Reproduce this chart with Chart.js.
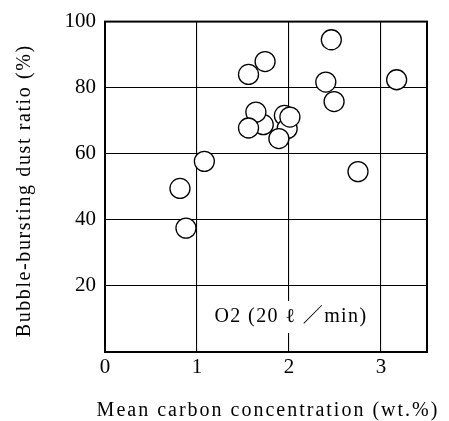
<!DOCTYPE html>
<html>
<head>
<meta charset="utf-8">
<script src="https://cdn.jsdelivr.net/npm/chart.js@4/dist/chart.umd.min.js"></script>
<style>
  html, body { margin: 0; padding: 0; background: #fff; }
  #wrap { width: 449px; height: 421px; }
</style>
</head>
<body>
<div id="wrap"><canvas id="c" width="449" height="421"></canvas></div>
<script>
// Mean carbon concentration (wt.%) of each run
const carbon = [0.815, 0.88, 1.08, 1.72, 1.64, 1.56, 1.56, 1.74, 1.95, 1.98, 2.01, 1.89, 2.40, 2.46, 2.49, 2.75, 3.17];
// Bubble-bursting dust ratio (%) of each run
const dustRatio = [49.5, 37.5, 57.7, 68.8, 72.6, 67.8, 84.0, 87.9, 71.6, 67.6, 71.1, 64.6, 81.7, 94.5, 75.8, 54.6, 82.4];

const xTickValues = [0, 1, 2, 3];
const yTickValues = [20, 40, 60, 80, 100];
const xRange = [0, 3.5];
const yRange = [0, 100];

const xTitle = 'Mean carbon concentration (wt.%)';
const yTitle = 'Bubble-bursting dust ratio (%)';
const noteText = 'O2 (20 ℓ ／min)';

const serif = '"Liberation Serif", "DejaVu Serif", "Noto Sans CJK JP", serif';

// Frame, axis titles and the condition note
const decor = {
  id: 'decor',
  beforeDatasetsDraw(chart) {
    const { ctx, chartArea: a } = chart;
    ctx.save();
    // note box sits over the grid but under the markers
    ctx.font = '20px ' + serif;
    ctx.letterSpacing = '1.4px';
    const w = ctx.measureText(noteText).width;
    const cx = (chart.scales.x.getPixelForValue(1) + chart.scales.x.getPixelForValue(3)) / 2 + 2;
    const cy = chart.scales.y.getPixelForValue(10.6);
    ctx.fillStyle = '#fff';
    ctx.fillRect(cx - w / 2 - 8, cy - 16, w + 16, 32);
    ctx.fillStyle = '#000';
    ctx.textAlign = 'center';
    ctx.textBaseline = 'middle';
    ctx.fillText(noteText, cx, cy);
    // frame
    ctx.strokeStyle = '#000';
    ctx.lineWidth = 2;
    ctx.strokeRect(a.left, a.top, a.right - a.left, a.bottom - a.top);
    ctx.restore();
  },
  afterDraw(chart) {
    const { ctx, chartArea: a } = chart;
    ctx.save();
    ctx.fillStyle = '#000';
    ctx.textAlign = 'center';
    ctx.textBaseline = 'middle';
    ctx.font = '20px ' + serif;
    ctx.letterSpacing = '2px';
    ctx.fillText(xTitle, (a.left + a.right) / 2 + 2, 411);
    ctx.translate(25, (a.top + a.bottom) / 2 + 4);
    ctx.rotate(-Math.PI / 2);
    ctx.letterSpacing = '1.6px';
    ctx.fillText(yTitle, 0, 0);
    ctx.restore();
  }
};

new Chart(document.getElementById('c'), {
  type: 'scatter',
  data: {
    datasets: [{
      data: carbon.map((x, i) => ({ x, y: dustRatio[i] })),
      pointStyle: 'circle',
      pointRadius: 10,
      pointHoverRadius: 10,
      pointBackgroundColor: '#fff',
      pointBorderColor: '#000',
      pointBorderWidth: 1.3
    }]
  },
  options: {
    responsive: false,
    animation: false,
    events: [],
    layout: { padding: { left: 14, right: 22, top: 20, bottom: 0 } },
    plugins: { legend: { display: false }, tooltip: { enabled: false } },
    scales: {
      x: {
        type: 'linear',
        min: xRange[0],
        max: xRange[1],
        afterBuildTicks: s => { s.ticks = xTickValues.map(v => ({ value: v })); },
        afterFit: s => { s.height = 69; },
        grid: { color: '#000', lineWidth: 1.1, drawTicks: false },
        border: { display: false },
        ticks: { color: '#000', padding: 3, font: { family: serif, size: 21 } }
      },
      y: {
        type: 'linear',
        min: yRange[0],
        max: yRange[1],
        afterBuildTicks: s => { s.ticks = yTickValues.map(v => ({ value: v })); },
        afterFit: s => { s.width = 91; },
        grid: { color: '#000', lineWidth: 1.1, drawTicks: false },
        border: { display: false },
        ticks: { color: '#000', padding: 9, font: { family: serif, size: 21 } }
      }
    }
  },
  plugins: [decor]
});
</script>
</body>
</html>
